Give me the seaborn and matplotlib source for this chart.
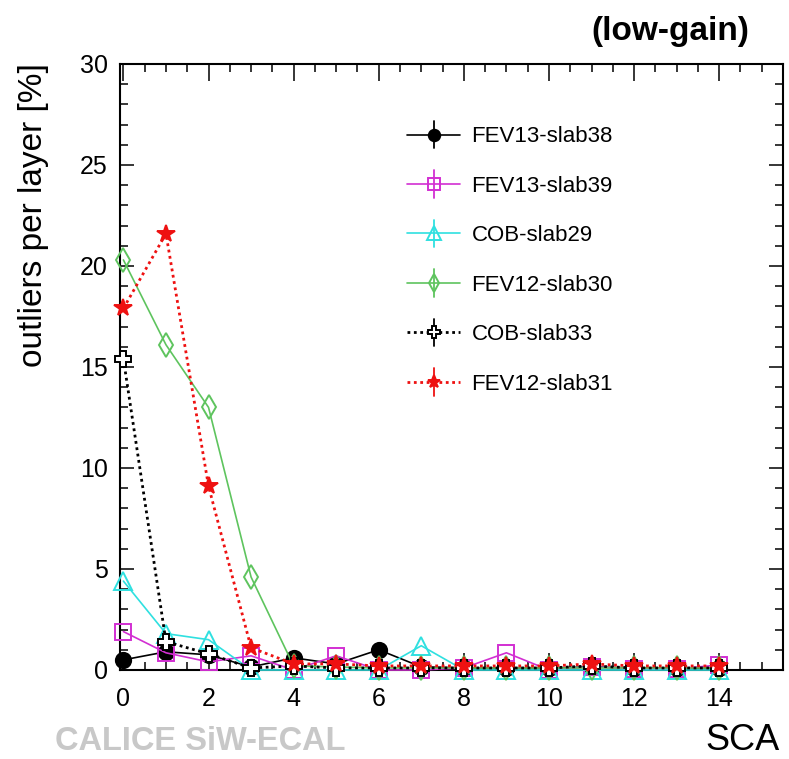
import matplotlib
matplotlib.use('Agg')
import matplotlib.pyplot as plt
import seaborn as sb
import pandas as pd
from matplotlib.lines import Line2D
from matplotlib.ticker import MultipleLocator
from matplotlib.legend_handler import HandlerLine2D

# values (SCA 0..14)
sca = list(range(15))
fev13_slab38 = [0.5, 0.9, 0.75, 0.15, 0.6, 0.3, 1.0, 0.15, 0.1, 0.1, 0.1, 0.15, 0.1, 0.1, 0.1]
fev13_slab39 = [1.9, 0.85, 0.4, 0.7, 0.0, 0.7, 0.0, 0.0, 0.1, 0.85, 0.0, 0.15, 0.05, 0.05, 0.25]
cob_slab29 = [4.4, 1.8, 1.5, 0.0, 0.0, 0.0, 0.0, 1.2, 0.0, 0.0, 0.0, 0.0, 0.0, 0.0, 0.0]
fev12_slab30 = [20.3, 16.1, 13.0, 4.6, 0.2, 0.15, 0.1, 0.1, 0.1, 0.1, 0.1, 0.1, 0.1, 0.1, 0.1]
cob_slab33 = [15.4, 1.4, 0.8, 0.1, 0.2, 0.1, 0.1, 0.1, 0.1, 0.1, 0.1, 0.2, 0.1, 0.1, 0.1]
fev12_slab31 = [17.9, 21.6, 9.1, 1.1, 0.3, 0.3, 0.2, 0.2, 0.2, 0.2, 0.2, 0.3, 0.2, 0.2, 0.2]

names = ['FEV13-slab38', 'FEV13-slab39', 'COB-slab29', 'FEV12-slab30', 'COB-slab33', 'FEV12-slab31']
values = [fev13_slab38, fev13_slab39, cob_slab29, fev12_slab30, cob_slab33, fev12_slab31]

dotted = (0, (1, 1.3))
styles = [  # color, marker, size, face, line style, line width
    ('black', 'o', 11, 'black', '-', 1.2),
    ('#d22fd2', 's', 11, 'none', '-', 1.2),
    ('#2fe0e0', '^', 13, 'none', '-', 1.2),
    ('#5ec45e', 'd', 12, 'none', '-', 1.2),
    ('black', 'P', 11, 'white', dotted, 2.0),
    ('#ee1111', '*', 13, '#ee1111', dotted, 2.0),
]


class ErrHandler(HandlerLine2D):  # legend entry with the vertical error bar like root "lep"
    def create_artists(self, legend, orig_handle, xdescent, ydescent, width, height, fontsize, trans):
        arts = super().create_artists(legend, orig_handle, xdescent, ydescent, width, height, fontsize, trans)
        xc = width / 2 - xdescent
        yc = (height - ydescent) / 2
        bar = Line2D([xc, xc], [yc - 0.62 * fontsize, yc + 0.62 * fontsize],
                     color=orig_handle.get_color(), lw=1.3)
        bar.set_transform(trans)
        return [bar] + list(arts)


sb.set_style('ticks')
plt.rcParams['font.family'] = ['Liberation Sans', 'DejaVu Sans']
plt.rcParams['text.color'] = 'black'
plt.rcParams['xtick.color'] = 'black'
plt.rcParams['ytick.color'] = 'black'
plt.rcParams['axes.edgecolor'] = 'black'

fig = plt.figure(figsize=(7.89, 7.59), dpi=100)
ax = fig.add_axes([0.1521, 0.1173, 0.8403, 0.7984])

for i, (name, vals) in enumerate(zip(names, values)):
    color, marker, ms, face, ls, lw = styles[i]
    df = pd.DataFrame({'sca': sca, 'val': vals})
    sb.lineplot(data=df, x='sca', y='val', ax=ax, color=color, marker=marker, markersize=ms,
                markerfacecolor=face, markeredgecolor=color, markeredgewidth=1.4,
                linestyle=ls, linewidth=lw, label=name, clip_on=False, zorder=3 + i)

ax.set_xlim(-0.08, 15.5)
ax.set_ylim(0, 30)
ax.xaxis.set_major_locator(MultipleLocator(2))
ax.xaxis.set_minor_locator(MultipleLocator(0.5))
ax.yaxis.set_major_locator(MultipleLocator(5))
ax.yaxis.set_minor_locator(MultipleLocator(1))
ax.tick_params(which='both', direction='in', top=True, right=True, width=1.1, labelsize=18,
               colors='black')
ax.tick_params(axis='x', which='major', length=12, pad=12)
ax.tick_params(axis='y', which='major', length=10, pad=9)
ax.tick_params(which='minor', length=5.5)
for sp in ax.spines.values():
    sp.set_linewidth(1.5)
    sp.set_color('black')
ax.set_xlabel('')
ax.set_ylabel('')

h, l = ax.get_legend_handles_labels()
ax.legend(h, l, handler_map={Line2D: ErrHandler()}, loc='upper left',
          bbox_to_anchor=(0.516, 0.8335), bbox_transform=fig.transFigure,
          frameon=False, fontsize=16, handlelength=2.4, handletextpad=0.5,
          labelspacing=1.28, borderpad=0, borderaxespad=0, markerscale=0.75)

fig.text(0.0425, 0.917, 'outliers per layer [%]', rotation=90, ha='center', va='top', fontsize=24)
fig.text(0.9886, 0.012, 'SCA', ha='right', va='baseline', fontsize=26)
fig.text(0.950, 0.947, '(low-gain)', ha='right', va='baseline', fontsize=24, fontweight='bold')
fig.text(0.0697, 0.012, 'CALICE SiW-ECAL', ha='left', va='baseline', fontsize=23.5,
         fontweight='bold', color='#c8c8c8')

fig.savefig('out.png', dpi=100)
